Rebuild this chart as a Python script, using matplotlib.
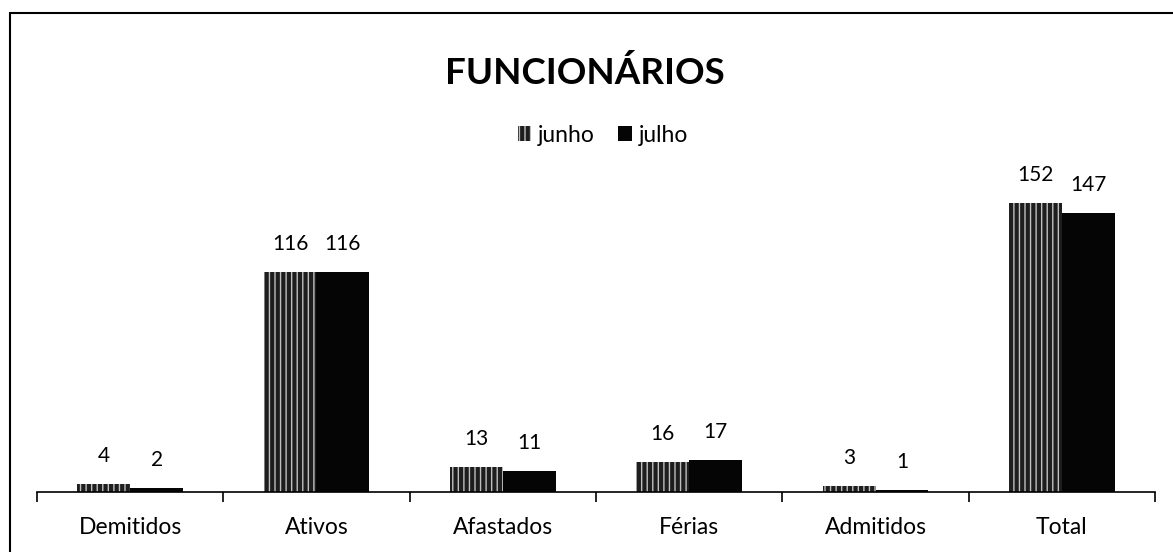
import numpy as np
import matplotlib.pyplot as plt
from matplotlib.patches import Rectangle

# dados
categorias = ['Demitidos', 'Ativos', 'Afastados', 'Férias', 'Admitidos', 'Total']
junho = [4, 116, 13, 16, 3, 152]
julho = [2, 116, 11, 17, 1, 147]

plt.rcParams['font.family'] = ['Lato', 'DejaVu Sans']

fig = plt.figure(figsize=(11.73, 5.52), dpi=100)
ax = fig.add_axes([0.0315, 0.1087, 0.9532, 0.5507])

x = np.arange(len(categorias))
w = 0.284
b1 = ax.bar(x - w/2, junho, w, color='#1e1e1e', edgecolor='#c0c0c0', hatch='|||', linewidth=0, label='junho')
b2 = ax.bar(x + w/2, julho, w, color='#050505', linewidth=0, label='julho')

for bars, vals in ((b1, junho), (b2, julho)):
    for r, v in zip(bars, vals):
        ax.annotate(str(v), (r.get_x() + r.get_width()/2, v), xytext=(0, 13),
                    textcoords='offset points', ha='center', va='bottom', fontsize=15)

ax.set_xlim(-0.5, len(categorias) - 0.5)
ax.set_ylim(0, 160)
ax.set_yticks([])
for s in ('left', 'right', 'top'):
    ax.spines[s].set_visible(False)
ax.spines['bottom'].set_linewidth(1.2)
ax.set_xticks(np.arange(len(categorias) + 1) - 0.5, minor=False)
ax.set_xticklabels([])
ax.set_xticks(x, minor=True)
ax.set_xticklabels(categorias, minor=True, fontsize=16.5)
ax.tick_params(axis='x', which='major', length=7, width=1.2, direction='out')
ax.tick_params(axis='x', which='minor', length=0, pad=18)

fig.text(0.499, 0.868, 'FUNCIONÁRIOS', ha='center', va='center', fontsize=26.5, fontweight='bold')
fig.legend(loc='center', bbox_to_anchor=(0.514, 0.755), ncol=2, frameon=False, fontsize=16.5,
           handlelength=0.6, handleheight=0.6, handletextpad=0.3, columnspacing=1.0)

# moldura
fig.patches.append(Rectangle((10/1173, -0.1), 1.2, 1 - 13/552 + 0.1, transform=fig.transFigure,
                             fill=False, edgecolor='black', linewidth=1.5))

fig.savefig('out.png', dpi=100)
